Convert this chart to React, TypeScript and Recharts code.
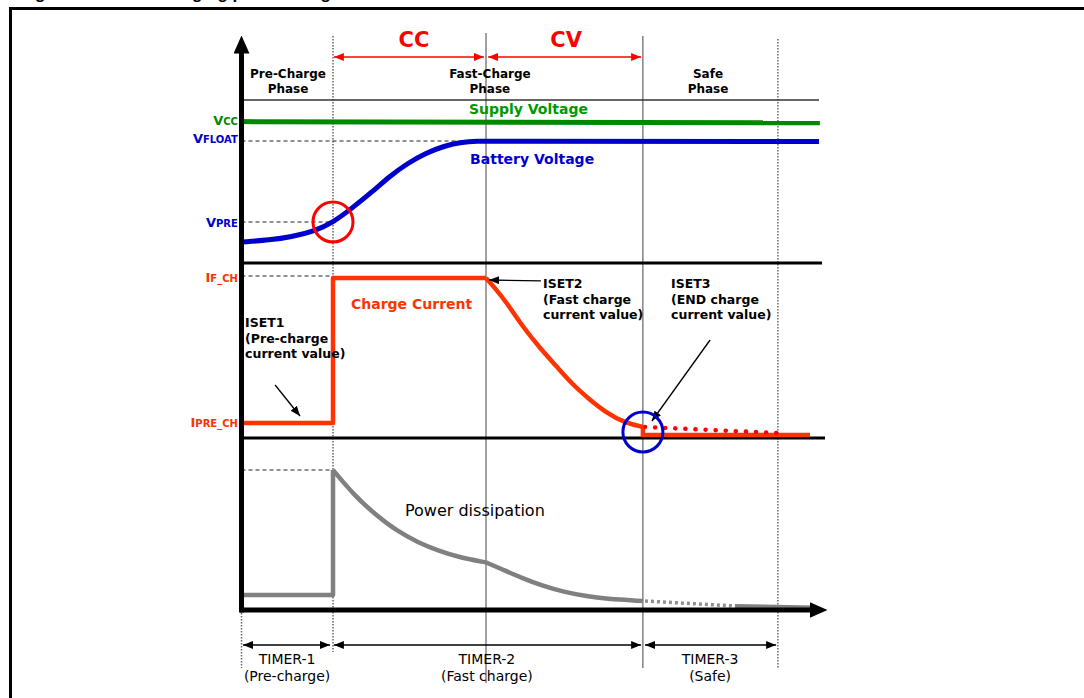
import React from "react";
import { LineChart, Line, XAxis, YAxis, ReferenceLine, ReferenceDot } from "recharts";

// x = time (arbitrary units, 0..195), y = level (arbitrary units, 0..143).
// The three panels (voltage / current / power) share the same level scale.
const FONT = "'DejaVu Sans', Verdana, sans-serif";
const TITLE = "Figure 12. Li-Ion charging phases diagram";

const supplyVoltage = [
  { t: 0, v: 122.1 },
  { t: 193.3, v: 121.8 },
];

const batteryRise = [
  { t: 0.7, v: 92 },
  { t: 10, v: 92.5 },
  { t: 17, v: 93.25 },
  { t: 25, v: 94.75 },
  { t: 31, v: 96.9 },
  { t: 37, v: 100.25 },
  { t: 44, v: 104.5 },
  { t: 50, v: 108.5 },
  { t: 56, v: 111.75 },
  { t: 62, v: 114.25 },
  { t: 68, v: 116 },
  { t: 74, v: 117 },
  { t: 80, v: 117.2 },
];

const batteryFloat = [
  { t: 80, v: 117.2 },
  { t: 193, v: 117.1 },
];

const preAndCcCurrent = [
  { t: 0.7, v: 46.75 },
  { t: 31, v: 46.75 },
  { t: 31, v: 83 },
  { t: 82, v: 83 },
];

const cvCurrent = [
  { t: 82, v: 83 },
  { t: 85, v: 80.5 },
  { t: 89, v: 76.75 },
  { t: 94.3, v: 70.75 },
  { t: 100, v: 65.5 },
  { t: 105.7, v: 60.75 },
  { t: 111, v: 56.25 },
  { t: 116.7, v: 52.5 },
  { t: 122.3, v: 49.25 },
  { t: 127.7, v: 47 },
  { t: 134.3, v: 45.75 },
];

const safeCurrent = [
  { t: 134.3, v: 45.75 },
  { t: 134.3, v: 43.75 },
  { t: 190, v: 43.75 },
];

const endChargeCurrent = [
  { t: 135, v: 45.75 },
  { t: 179, v: 44.25 },
];

const prePower = [
  { t: 0.7, v: 3.75 },
  { t: 31, v: 3.75 },
  { t: 31, v: 35 },
];

const ccPower = [
  { t: 31, v: 35 },
  { t: 38.3, v: 28.5 },
  { t: 45.3, v: 23.75 },
  { t: 52.3, v: 19.75 },
  { t: 59.3, v: 16.9 },
  { t: 66.3, v: 14.75 },
  { t: 73.3, v: 13.1 },
  { t: 82, v: 11.9 },
];

const cvPower = [
  { t: 82, v: 11.9 },
  { t: 87, v: 10.3 },
  { t: 94, v: 8 },
  { t: 101, v: 6 },
  { t: 108, v: 4.5 },
  { t: 115, v: 3.5 },
  { t: 122, v: 2.75 },
  { t: 134.3, v: 2.25 },
];

const safePowerDots = [
  { t: 135, v: 2.25 },
  { t: 165, v: 1 },
];

const safePowerTail = [
  { t: 165, v: 1 },
  { t: 192, v: 0.6 },
];

// phase boundaries and guide lines
const phaseLines = [
  { t: 31, top: 143.5, bottom: -10.5, dotted: true },
  { t: 82, top: 144.25, bottom: -18.25, dotted: false },
  { t: 134.3, top: 143.5, bottom: -14.5, dotted: false },
  { t: 179.3, top: 142.75, bottom: -14.5, dotted: true },
  { t: 0.5, top: 0, bottom: -14.5, dotted: true },
];

const panelLines = [
  { v: 127.5, from: 0.5, to: 193, color: "#333", w: 1.5 },
  { v: 86.75, from: 0, to: 194, color: "#000", w: 3 },
  { v: 43, from: 0, to: 195, color: "#000", w: 3 },
];

const levelGuides = [
  { v: 117.25, to: 77 },
  { v: 97, to: 31 },
  { v: 83.5, to: 31 },
  { v: 35, to: 31 },
];

const arrows = [
  { a: [31.3, 138.25], b: [81.3, 138.25], color: "#ff0000", both: true, w: 1.5 },
  { a: [82.7, 138.25], b: [133.7, 138.25], color: "#ff0000", both: true, w: 1.5 },
  { a: [11.7, 56.25], b: [20, 48.5], color: "#000", both: false, w: 1.3 },
  { a: [100.3, 82.3], b: [83, 82.5], color: "#000", both: false, w: 1.3 },
  { a: [156.7, 67.5], b: [137.3, 47.25], color: "#000", both: false, w: 1.3 },
  { a: [1, -8.75], b: [30, -8.75], color: "#000", both: true, w: 1.3 },
  { a: [31.3, -8.75], b: [133.7, -8.75], color: "#000", both: true, w: 1.3 },
  { a: [135, -8.75], b: [178.7, -8.75], color: "#000", both: true, w: 1.3 },
];

const phaseLabels = [
  { t: 16, v: 133, lines: ["Pre-Charge", "Phase"] },
  { t: 83.3, v: 133, lines: ["Fast-Charge", "Phase"] },
  { t: 156, v: 133, lines: ["Safe", "Phase"] },
];

const modeLabels = [
  { t: 58, v: 140.75, text: "CC" },
  { t: 108.7, v: 140.75, text: "CV" },
];

const curveLabels = [
  { t: 76.3, v: 124, text: "Supply Voltage", color: "#009900" },
  { t: 76.7, v: 111.5, text: "Battery Voltage", color: "#0000cc" },
  { t: 37, v: 75.25, text: "Charge Current", color: "#ff3300" },
];

const notes = [
  { t: 1.7, v: 70.75, lines: ["ISET1", "(Pre-charge", "current value)"] },
  { t: 101, v: 80.5, lines: ["ISET2", "(Fast charge", "current value)"] },
  { t: 143.7, v: 80.5, lines: ["ISET3", "(END charge", "current value)"] },
];

const levelLabels = [
  { v: 121.25, big: "V", small: "CC", color: "#008800" },
  { v: 116.75, big: "V", small: "FLOAT", color: "#0000cc" },
  { v: 95.75, big: "V", small: "PRE", color: "#0000cc" },
  { v: 82, big: "I", small: "F_CH", color: "#ff3300" },
  { v: 45.75, big: "I", small: "PRE_CH", color: "#ff3300" },
];

const timerLabels = [
  { t: 15.7, lines: ["TIMER-1", "(Pre-charge)"] },
  { t: 82.3, lines: ["TIMER-2", "(Fast charge)"] },
  { t: 156.7, lines: ["TIMER-3", "(Safe)"] },
];

const textShape =
  (lines: string[], style: any, lh: number) =>
  (p: any) =>
    (
      <text x={p.cx} y={p.cy} {...style}>
        {lines.map((l, i) => (
          <tspan key={i} x={p.cx} dy={i === 0 ? 0 : lh}>
            {l}
          </tspan>
        ))}
      </text>
    );

const lineProps = { dataKey: "v", dot: false, activeDot: false, isAnimationActive: false } as const;

export default function App() {
  return (
    <div
      style={{
        position: "absolute",
        left: 0,
        top: 0,
        width: 1084,
        height: 698,
        overflow: "hidden",
        background: "#fff",
      }}
    >
      <div
        style={{
          position: "absolute",
          left: 20,
          top: -15.5,
          font: "bold 17px 'Liberation Sans', Arial, sans-serif",
          lineHeight: "17px",
          whiteSpace: "nowrap",
        }}
      >
        {TITLE}
      </div>
      <div
        style={{
          position: "absolute",
          left: 9,
          top: 7,
          width: 1200,
          height: 800,
          borderTop: "3px solid #000",
          borderLeft: "3px solid #000",
          background: "#fff",
        }}
      />
      <svg width={0} height={0} style={{ position: "absolute" }}>
        <defs>
          <marker id="axisHead" viewBox="0 0 18 16" refX={0.5} refY={8} markerWidth={18} markerHeight={16} markerUnits="userSpaceOnUse" orient="auto">
            <path d="M0,0 L18,8 L0,16 z" fill="#000" />
          </marker>
          <marker id="headBlack" viewBox="0 0 10 8" refX={10} refY={4} markerWidth={10} markerHeight={8} markerUnits="userSpaceOnUse" orient="auto-start-reverse">
            <path d="M0,0 L10,4 L0,8 z" fill="#000" />
          </marker>
          <marker id="headRed" viewBox="0 0 10 8" refX={10} refY={4} markerWidth={10} markerHeight={8} markerUnits="userSpaceOnUse" orient="auto-start-reverse">
            <path d="M0,0 L10,4 L0,8 z" fill="#ff0000" />
          </marker>
        </defs>
      </svg>
      <div style={{ position: "absolute", left: 0, top: 0 }}>
        <LineChart width={1084} height={698} margin={{ top: 38, right: 259, bottom: 88, left: 240 }}>
          <XAxis type="number" dataKey="t" domain={[0, 195]} allowDataOverflow hide />
          <YAxis type="number" domain={[0, 143]} allowDataOverflow hide />

          {phaseLines.map((l, i) => (
            <ReferenceLine
              key={"pl" + i}
              segment={[{ x: l.t, y: l.top }, { x: l.t, y: l.bottom }]}
              ifOverflow="visible"
              stroke={l.dotted ? "#666" : "#444"}
              strokeWidth={l.dotted ? 1.5 : 1}
              strokeDasharray={l.dotted ? "1.5 1.5" : undefined}
            />
          ))}
          {levelGuides.map((g, i) => (
            <ReferenceLine
              key={"lg" + i}
              segment={[{ x: 0.5, y: g.v }, { x: g.to, y: g.v }]}
              ifOverflow="visible"
              stroke="#222"
              strokeWidth={1}
              strokeDasharray="4 3"
            />
          ))}
          {panelLines.map((l, i) => (
            <ReferenceLine
              key={"hl" + i}
              segment={[{ x: l.from, y: l.v }, { x: l.to, y: l.v }]}
              ifOverflow="visible"
              stroke={l.color}
              strokeWidth={l.w}
            />
          ))}

          <Line {...lineProps} data={supplyVoltage} type="linear" stroke="#008800" strokeWidth={5} />
          <Line {...lineProps} data={batteryRise} type="basis" stroke="#0000cc" strokeWidth={5} />
          <Line {...lineProps} data={batteryFloat} type="linear" stroke="#0000cc" strokeWidth={5} />

          <Line {...lineProps} data={preAndCcCurrent} type="linear" stroke="#ff3300" strokeWidth={4.5} strokeLinejoin="round" />
          <Line {...lineProps} data={cvCurrent} type="basis" stroke="#ff3300" strokeWidth={4.5} />
          <Line {...lineProps} data={safeCurrent} type="linear" stroke="#ff3300" strokeWidth={4.5} />
          <Line {...lineProps} data={endChargeCurrent} type="linear" stroke="#ff0000" strokeWidth={4.5} strokeLinecap="round" strokeDasharray="0.1 10" />

          <Line {...lineProps} data={prePower} type="linear" stroke="#808080" strokeWidth={4.5} strokeLinejoin="round" />
          <Line {...lineProps} data={ccPower} type="basis" stroke="#808080" strokeWidth={4.5} />
          <Line {...lineProps} data={cvPower} type="basis" stroke="#808080" strokeWidth={4.5} />
          <Line {...lineProps} data={safePowerDots} type="linear" stroke="#909090" strokeWidth={3.5} strokeDasharray="3 3" />
          <Line {...lineProps} data={safePowerTail} type="linear" stroke="#808080" strokeWidth={4} />

          {/* axes with arrow heads */}
          <ReferenceLine
            segment={[{ x: 0.5, y: -0.6 }, { x: 0.5, y: 139.25 }]}
            ifOverflow="visible"
            shape={(p: any) => (
              <line x1={p.x1} y1={p.y1} x2={p.x2} y2={p.y2} stroke="#000" strokeWidth={5} markerEnd="url(#axisHead)" />
            )}
          />
          <ReferenceLine
            segment={[{ x: 0, y: 0 }, { x: 190, y: 0 }]}
            ifOverflow="visible"
            shape={(p: any) => (
              <line x1={p.x1} y1={p.y1} x2={p.x2} y2={p.y2} stroke="#000" strokeWidth={5} markerEnd="url(#axisHead)" />
            )}
          />

          {arrows.map((a, i) => (
            <ReferenceLine
              key={"ar" + i}
              segment={[{ x: a.a[0], y: a.a[1] }, { x: a.b[0], y: a.b[1] }]}
              ifOverflow="visible"
              shape={(p: any) => {
                const m = a.color === "#000" ? "url(#headBlack)" : "url(#headRed)";
                return (
                  <line
                    x1={p.x1}
                    y1={p.y1}
                    x2={p.x2}
                    y2={p.y2}
                    stroke={a.color}
                    strokeWidth={a.w}
                    markerEnd={m}
                    markerStart={a.both ? m : undefined}
                  />
                );
              }}
            />
          ))}

          <ReferenceDot x={31} y={97} r={20} ifOverflow="visible" fill="none" stroke="#ff0000" strokeWidth={3} />
          <ReferenceDot x={134.3} y={44.5} r={20} ifOverflow="visible" fill="none" stroke="#0000cc" strokeWidth={3} />

          {phaseLabels.map((l, i) => (
            <ReferenceDot
              key={"ph" + i}
              x={l.t}
              y={l.v}
              r={1}
              ifOverflow="visible"
              shape={textShape(l.lines, { fontFamily: FONT, fontSize: 12, fontWeight: "bold", fill: "#000", textAnchor: "middle" }, 15)}
            />
          ))}
          {modeLabels.map((l, i) => (
            <ReferenceDot
              key={"md" + i}
              x={l.t}
              y={l.v}
              r={1}
              ifOverflow="visible"
              shape={textShape([l.text], { fontFamily: FONT, fontSize: 21, fontWeight: "bold", fill: "#ff0000", textAnchor: "middle" }, 0)}
            />
          ))}
          {curveLabels.map((l, i) => (
            <ReferenceDot
              key={"cl" + i}
              x={l.t}
              y={l.v}
              r={1}
              ifOverflow="visible"
              shape={textShape([l.text], { fontFamily: FONT, fontSize: 14, fontWeight: "bold", fill: l.color, textAnchor: "start" }, 0)}
            />
          ))}
          {notes.map((l, i) => (
            <ReferenceDot
              key={"nt" + i}
              x={l.t}
              y={l.v}
              r={1}
              ifOverflow="visible"
              shape={textShape(l.lines, { fontFamily: FONT, fontSize: 12.5, fontWeight: "bold", fill: "#000", textAnchor: "start" }, 15.5)}
            />
          ))}
          {levelLabels.map((l, i) => (
            <ReferenceDot
              key={"ll" + i}
              x={-0.7}
              y={l.v}
              r={1}
              ifOverflow="visible"
              shape={(p: any) => (
                <text x={p.cx} y={p.cy} fontFamily={FONT} fontWeight="bold" fill={l.color} textAnchor="end">
                  <tspan fontSize={13}>{l.big}</tspan>
                  <tspan fontSize={10}>{l.small}</tspan>
                </text>
              )}
            />
          ))}
          <ReferenceDot
            x={55}
            y={23.5}
            r={1}
            ifOverflow="visible"
            shape={textShape(["Power dissipation"], { fontFamily: FONT, fontSize: 16, fill: "#000", textAnchor: "start" }, 0)}
          />
          {timerLabels.map((l, i) => (
            <ReferenceDot
              key={"tm" + i}
              x={l.t}
              y={-13.5}
              r={1}
              ifOverflow="visible"
              shape={textShape(l.lines, { fontFamily: FONT, fontSize: 14, fill: "#000", textAnchor: "middle" }, 17)}
            />
          ))}
        </LineChart>
      </div>
    </div>
  );
}
